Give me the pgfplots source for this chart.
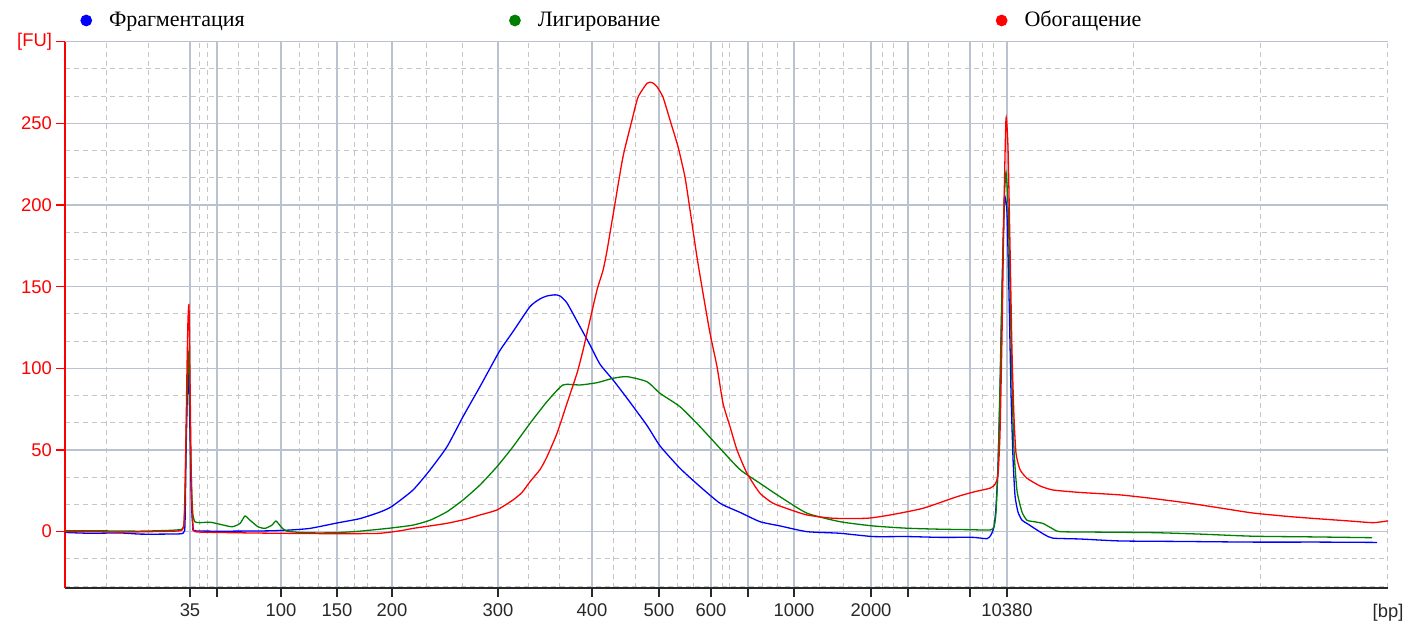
\documentclass[border=0pt]{standalone}
\usepackage{pgfplots}
\pgfplotsset{compat=1.18}
\usepackage{fontspec}
\setmainfont{Liberation Sans}
\newfontfamily\serifcyr{Liberation Serif}
\definecolor{majgrid}{RGB}{186,194,208}
\definecolor{mingrid}{RGB}{198,198,198}
\definecolor{dgreen}{RGB}{0,128,0}
\definecolor{tickgray}{RGB}{40,40,40}
\begin{document}
\begin{tikzpicture}
\begin{axis}[
 name=ax,
 scale only axis, width=661.5pt, height=273.15pt,
 xmin=65, xmax=1388, ymin=-34.5, ymax=300,
 axis x line*=bottom, axis y line*=left,
 x axis line style={-, line width=0.8pt, color=tickgray},
 y axis line style={-, line width=0.8pt, color=red},
 xtick={190,217,281,337,392,498,592,659,711,748,794,871,908,970,1007},
 xticklabels={35,,100,150,200,300,400,500,600,,1000,2000,,,10380},
 minor xtick={107,148,199,207,238,258,299,318,354,367,426,462,528,559,613,635,677,693,722,729,762,777,819,843,882,893,928,948,982,993,1133,1260,1387},
 ytick={0,50,100,150,200,250,300},
 yticklabels={0,50,100,150,200,250,[FU]},
 minor ytick={-33.333,-16.667,16.667,33.333,66.667,83.333,116.667,133.333,166.667,183.333,216.667,233.333,266.667,283.333},
 tick align=outside,
 major tick length=4.5pt, minor tick length=0pt,
 xtick style={tickgray, line width=0.7pt},
 ytick style={red, line width=0.7pt},
 xticklabel style={font=\fontsize{9.2}{10}\selectfont, text=tickgray},
 yticklabel style={font=\fontsize{9.2}{10}\selectfont, text=red, xshift=1.5pt},
 grid=both,
 major grid style={majgrid, line width=0.75pt},
 minor grid style={mingrid, line width=0.5pt, dash pattern=on 2.5pt off 2pt},
 xlabel={[bp]},
 xlabel style={at={(rel axis cs:1,0)}, anchor=north, yshift=-8pt, font=\fontsize{9.2}{10}\selectfont, text=tickgray, inner sep=0pt},
 legend columns=3,
 legend image code/.code={\fill[#1] (0pt,0pt) circle (2.6pt);},
 legend style={at={(rel axis cs:0.01134,1.0388)}, anchor=west, draw=none, fill=none, inner sep=0pt,
   font=\serifcyr\fontsize{11}{13}\selectfont,
   nodes={inner sep=0pt},
   /tikz/every odd column/.append style={column sep=8.5pt},
   /tikz/every even column/.append style={column sep=0pt}},
 every axis plot/.append style={line width=0.65pt, mark=none, smooth, tension=0.35},
]
\addplot[color=blue] coordinates {
(65,-0.5)(90,-1)(120,-0.8)(140,-1.5)(165,-1.5)(183,-1)(185,5)(186,45)(187,75)(188,97)(189,88)(190,60)(191,28)(192,10)(193,3)(195,0.5)(230,0.3)(270,0.5)(290,1)(310,2)(337,5.3)(360,8)(380,12)(392,15.5)(413,25.5)(430,37.8)(447,52)(463,70.4)(480,88.8)(490,100)(500,111)(513,122.5)(530,137.8)(540,142.5)(547,144.3)(555,145)(560,144.3)(567,140)(580,125.5)(590,114.3)(600,102.5)(613,92.9)(627,81.7)(647,65)(660,52.5)(680,38.8)(700,27.6)(720,17.4)(740,11.8)(760,6.1)(780,3.5)(807,0)(840,-1)(873,-3)(907,-3)(940,-3.5)(973,-3.5)(987,-4.3)(991,-2)(994,3)(996,15)(998,40)(1000,85)(1002,145)(1004,195)(1005,205)(1007,195)(1009,145)(1011,85)(1013,45)(1015,22)(1018,12)(1022,7)(1027,5)(1032,3)(1037,1)(1045,-2)(1053,-4)(1080,-4.5)(1120,-5.7)(1180,-6)(1253,-6.4)(1320,-6.4)(1377,-6.6)
};
\addlegendentry{\makebox[200pt][l]{Фрагментация}}
\addplot[color=dgreen] coordinates {
(65,0.5)(100,0.5)(140,0.3)(170,0.8)(182,1.5)(184,5)(185,20)(186,55)(187,80)(188,105)(189,109)(190,75)(191,40)(192,20)(193,10)(195,6)(200,5.5)(210,5.8)(220,4.5)(232,3)(240,5)(245,9.6)(250,7)(258,3)(265,2)(272,4)(276,6.5)(281,3)(286,0.5)(300,-0.5)(320,-0.8)(340,-0.5)(360,0.3)(380,1.5)(392,2.3)(413,4)(430,7)(447,12.2)(463,19.4)(480,28.6)(497,39.8)(513,52)(530,66.3)(547,79.6)(563,89.8)(580,89.8)(597,91.2)(613,93.9)(627,94.9)(647,91.8)(660,84.7)(680,76.5)(700,64.3)(720,51)(740,38)(760,29.6)(780,21.4)(807,11.3)(840,6.1)(873,3.5)(907,2.1)(940,1.5)(970,1.2)(990,1)(994,3)(996,12)(998,40)(1000,90)(1002,150)(1004,200)(1006,220)(1008,200)(1010,150)(1012,90)(1014,50)(1017,25)(1022,12)(1027,7)(1035,6)(1043,5)(1052,2)(1060,0)(1100,-0.3)(1153,-0.6)(1200,-1.5)(1253,-2.8)(1310,-3.2)(1372,-3.7)
};
\addlegendentry{\makebox[229pt][l]{Лигирование}}
\addplot[color=red] coordinates {
(65,0)(90,0)(120,-0.3)(150,0)(175,0.3)(182,1)(184,5)(185,25)(186,60)(187,100)(188,130)(189,138)(190,95)(191,45)(192,15)(193,4)(195,0)(220,-0.5)(250,-0.8)(280,-1)(320,-1.2)(360,-1.2)(380,-1)(400,0.5)(413,2)(430,3.5)(447,5.1)(465,7.5)(480,10.2)(497,13.3)(513,19.4)(522,24)(530,30.6)(540,38)(547,45.9)(557,60.2)(567,78.6)(577,97)(583,111)(590,129.6)(597,148)(603,160)(607,172)(615,201)(623,229.6)(632,252)(638,266)(647,274.5)(652,275)(657,272.4)(663,266)(670,252)(678,235.7)(685,217)(690,197)(697,168)(703,146)(710,121.5)(717,101)(723,78.6)(730,64.3)(737,50)(747,35.7)(760,23.5)(773,17.4)(790,13.5)(807,10.2)(833,8.2)(867,8.2)(890,10.2)(923,14.3)(957,21.4)(975,24.5)(990,26.6)(995,29)(998,35)(1000,60)(1002,120)(1004,200)(1006,253)(1008,235)(1010,175)(1012,110)(1014,70)(1016,48)(1020,38)(1027,32.7)(1040,28)(1053,25.5)(1080,24)(1120,22.5)(1150,20.5)(1187,17.6)(1220,14.5)(1253,11.4)(1290,9.2)(1320,7.8)(1350,6.5)(1373,5.5)(1388,6.6)
};
\addlegendentry{Обогащение}
\end{axis}
\pgfresetboundingbox
\path[use as bounding box] ([xshift=-32.5pt,yshift=-20.5pt]ax.south west) rectangle ([xshift=9pt,yshift=20.85pt]ax.north east);
\end{tikzpicture}
\end{document}
